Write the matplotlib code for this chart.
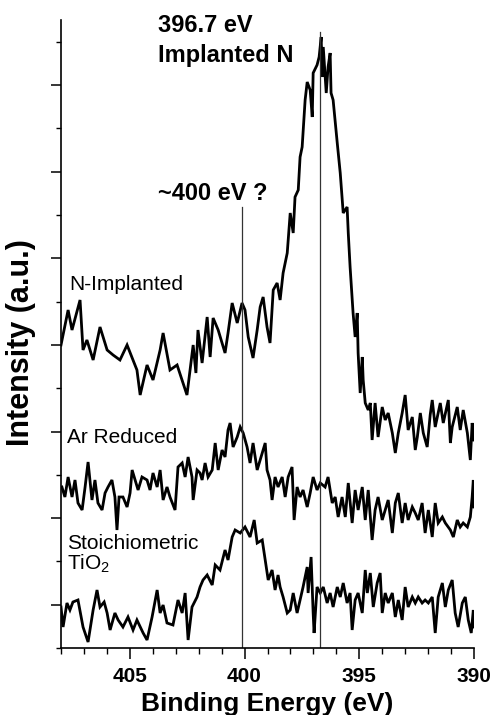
import numpy as np
import matplotlib
matplotlib.use("Agg")
import matplotlib.pyplot as plt
from matplotlib.ticker import MultipleLocator, FixedLocator

plt.rcParams['font.family'] = ['Liberation Sans', 'DejaVu Sans']
plt.rcParams['mathtext.default'] = 'regular'

# ---------------- data (binding energy in eV, intensity in a.u.) ----------------
n_impl_E = [408.00, 407.69, 407.52, 407.17, 407.04, 406.87, 406.60, 406.30, 405.99, 405.73,
            405.43, 405.12, 404.69, 404.55, 404.25, 403.99, 403.68, 403.55, 403.25, 402.94,
            402.51, 402.24, 402.12, 402.03, 401.85, 401.63, 401.50, 401.37, 401.15, 400.85,
            400.72, 400.54, 400.32, 400.11, 399.98, 399.84, 399.63, 399.45, 399.32, 399.19,
            399.02, 398.89, 398.75, 398.58, 398.45, 398.32, 398.14, 398.01, 397.88, 397.80,
            397.66, 397.58, 397.49, 397.36, 397.27, 397.14, 397.05, 397.01, 396.84, 396.75,
            396.66, 396.62, 396.57, 396.44, 396.36, 396.27, 396.23, 396.14, 395.96, 395.83,
            395.70, 395.53, 395.48, 395.40, 395.27, 395.18, 395.09, 395.05, 394.96, 394.87,
            394.83, 394.74, 394.61, 394.52, 394.44, 394.31, 394.18, 394.00, 393.87, 393.74,
            393.56, 393.43, 393.30, 393.13, 393.00, 392.87, 392.69, 392.56, 392.47, 392.34,
            392.21, 392.04, 391.91, 391.82, 391.69, 391.47, 391.34, 391.12, 391.03, 390.95,
            390.73, 390.60, 390.47, 390.29, 390.16, 390.08, 390.00]
n_impl_I = [303, 338, 318, 348, 298, 308, 288, 321, 298, 293,
            288, 303, 278, 253, 283, 268, 298, 315, 278, 283,
            253, 303, 275, 318, 285, 331, 291, 330, 318, 295,
            315, 345, 325, 345, 338, 311, 290, 318, 341, 351,
            321, 305, 358, 365, 348, 375, 395, 435, 415, 451,
            458, 491, 501, 548, 566, 558, 531, 575, 583, 591,
            611, 571, 601, 555, 581, 595, 555, 548, 505, 475,
            435, 441, 415, 381, 335, 311, 335, 295, 255, 291,
            268, 245, 238, 245, 208, 245, 211, 241, 228, 235,
            215, 195, 215, 235, 253, 218, 231, 198, 211, 235,
            215, 201, 233, 248, 221, 245, 225, 248, 205, 221,
            241, 218, 238, 215, 188, 225, 208]

ar_red_E = [407.96, 407.83, 407.69, 407.52, 407.39, 407.26, 407.08, 406.95, 406.82, 406.65,
            406.52, 406.39, 406.21, 406.08, 405.95, 405.78, 405.65, 405.56, 405.47, 405.30,
            405.12, 404.99, 404.90, 404.77, 404.64, 404.47, 404.25, 404.12, 403.99, 403.81,
            403.68, 403.55, 403.38, 403.25, 403.03, 402.90, 402.72, 402.59, 402.46, 402.29,
            402.24, 402.07, 401.94, 401.85, 401.72, 401.59, 401.41, 401.28, 401.15, 400.98,
            400.85, 400.72, 400.63, 400.50, 400.32, 400.19, 400.06, 399.89, 399.76, 399.63,
            399.45, 399.32, 399.10, 399.02, 398.89, 398.80, 398.67, 398.54, 398.36, 398.23,
            398.10, 397.93, 397.84, 397.71, 397.58, 397.45, 397.27, 397.14, 397.01, 396.84,
            396.70, 396.49, 396.36, 396.18, 396.05, 395.92, 395.75, 395.61, 395.48, 395.31,
            395.18, 395.05, 394.87, 394.74, 394.61, 394.44, 394.31, 394.18, 394.00, 393.87,
            393.74, 393.56, 393.43, 393.30, 393.13, 393.00, 392.87, 392.69, 392.56, 392.43,
            392.26, 392.13, 391.99, 391.82, 391.69, 391.56, 391.38, 391.25, 391.03, 390.90,
            390.73, 390.60, 390.47, 390.29, 390.16, 390.08, 390.03, 390.00]
ar_red_I = [161, 151, 171, 151, 168, 145, 138, 161, 186, 148,
            168, 145, 138, 155, 161, 168, 151, 118, 151, 151,
            141, 155, 178, 168, 158, 171, 168, 158, 175, 161,
            178, 148, 161, 151, 138, 181, 185, 171, 191, 171,
            148, 178, 175, 168, 185, 171, 178, 205, 178, 198,
            191, 218, 225, 201, 211, 221, 215, 201, 185, 205,
            178, 188, 205, 178, 168, 148, 171, 161, 171, 151,
            171, 181, 128, 161, 151, 158, 141, 155, 171, 158,
            165, 161, 171, 145, 151, 131, 151, 131, 165, 125,
            158, 138, 161, 128, 158, 108, 138, 151, 128, 138,
            148, 115, 145, 155, 125, 145, 128, 141, 135, 128,
            145, 115, 138, 111, 145, 125, 131, 125, 118, 111,
            128, 121, 125, 121, 131, 151, 168, 141]

stoich_E = [408.00, 407.91, 407.74, 407.61, 407.48, 407.26, 407.04, 406.82, 406.60, 406.43,
            406.30, 406.12, 405.99, 405.86, 405.65, 405.51, 405.30, 405.08, 404.86, 404.69,
            404.42, 404.25, 404.03, 403.81, 403.68, 403.55, 403.38, 403.12, 402.90, 402.72,
            402.59, 402.46, 402.29, 402.07, 401.94, 401.81, 401.63, 401.41, 401.28, 401.07,
            400.85, 400.72, 400.54, 400.41, 400.19, 399.98, 399.76, 399.58, 399.45, 399.23,
            399.10, 398.97, 398.80, 398.67, 398.54, 398.45, 398.32, 398.14, 398.01, 397.88,
            397.71, 397.58, 397.45, 397.27, 397.23, 397.10, 397.01, 396.97, 396.84, 396.70,
            396.57, 396.40, 396.27, 396.14, 395.96, 395.83, 395.70, 395.53, 395.40, 395.31,
            395.18, 395.05, 394.87, 394.74, 394.65, 394.52, 394.39, 394.22, 394.09, 394.00,
            393.87, 393.74, 393.56, 393.43, 393.30, 393.13, 393.00, 392.87, 392.69, 392.56,
            392.43, 392.26, 392.13, 391.99, 391.82, 391.69, 391.56, 391.38, 391.25, 391.12,
            390.95, 390.82, 390.69, 390.51, 390.38, 390.25, 390.12, 390.03, 390.00]
stoich_I = [41, 21, 45, 38, 46, 48, 21, 6, 38, 58,
            41, 46, 35, 18, 35, 28, 21, 31, 18, 28,
            15, 8, 31, 58, 35, 43, 25, 23, 48, 35,
            55, 8, 41, 51, 61, 68, 73, 63, 83, 78,
            98, 88, 111, 118, 115, 121, 111, 128, 105, 108,
            88, 68, 78, 58, 73, 61, 51, 35, 38, 55,
            35, 48, 61, 81, 55, 91, 35, 15, 61, 55,
            61, 45, 55, 41, 61, 51, 65, 45, 55, 18,
            48, 55, 35, 78, 55, 75, 41, 65, 75, 35,
            55, 45, 55, 31, 48, 28, 61, 41, 51, 45,
            51, 45, 48, 45, 51, 15, 51, 65, 41, 58,
            68, 35, 21, 45, 51, 28, 15, 38, 21]

marker_E = [400.1, 396.7]
marker_top = [441, 616]

xticks_major = [405, 400, 395, 390]

# ---------------- figure ----------------
fig = plt.figure(figsize=(4.94, 7.15), dpi=100)
ax = fig.add_axes([61/494, 67/715, 413/494, 628/715])

for E, I in [(n_impl_E, n_impl_I), (ar_red_E, ar_red_I), (stoich_E, stoich_I)]:
    ax.plot(E, I, color='black', lw=2.0, solid_joinstyle='miter')

for e, top in zip(marker_E, marker_top):
    ax.plot([e, e], [0, top], color='#333333', lw=0.9)

ax.set_xlim(408, 390)
ax.set_ylim(0, 628)

ax.spines['top'].set_visible(False)
ax.spines['right'].set_visible(False)
for s in ['left', 'bottom']:
    ax.spines[s].set_linewidth(1.2)

ax.xaxis.set_major_locator(FixedLocator(xticks_major))
ax.xaxis.set_minor_locator(MultipleLocator(1))
ax.yaxis.set_major_locator(FixedLocator(np.arange(43.3, 628, 86.6)))
ax.yaxis.set_minor_locator(FixedLocator(np.arange(0, 628, 86.6)))
ax.tick_params(axis='x', which='major', direction='out', length=8, width=1.1, pad=6,
               labelsize=15)
ax.tick_params(axis='x', which='minor', direction='out', length=4, width=1.0)
ax.tick_params(axis='y', which='major', direction='out', length=7, width=1.1, labelleft=False)
ax.tick_params(axis='y', which='minor', direction='out', length=3.5, width=1.0)
for lab in ax.get_xticklabels():
    lab.set_fontweight('bold')

ax.set_xlabel('Binding Energy (eV)', fontsize=19, fontweight='bold', labelpad=4)
ax.set_ylabel('Intensity (a.u.)', fontsize=22, fontweight='bold')
ax.yaxis.set_label_coords(-0.06, 0.487)

ax.text(403.77, 616, '396.7 eV', fontsize=17, fontweight='bold', va='baseline', ha='left')
ax.text(403.77, 586, 'Implanted N', fontsize=17, fontweight='bold', va='baseline', ha='left')
ax.text(403.77, 448, '~400 eV ?', fontsize=17, fontweight='bold', va='baseline', ha='left')
ax.text(407.65, 358, 'N-Implanted', fontsize=15, va='baseline', ha='left')
ax.text(407.75, 205, 'Ar Reduced', fontsize=15, va='baseline', ha='left')
ax.text(407.75, 99, 'Stoichiometric', fontsize=15, va='baseline', ha='left')
ax.text(407.75, 78, 'TiO$_2$', fontsize=15, va='baseline', ha='left')

fig.savefig('out.png', dpi=100)
